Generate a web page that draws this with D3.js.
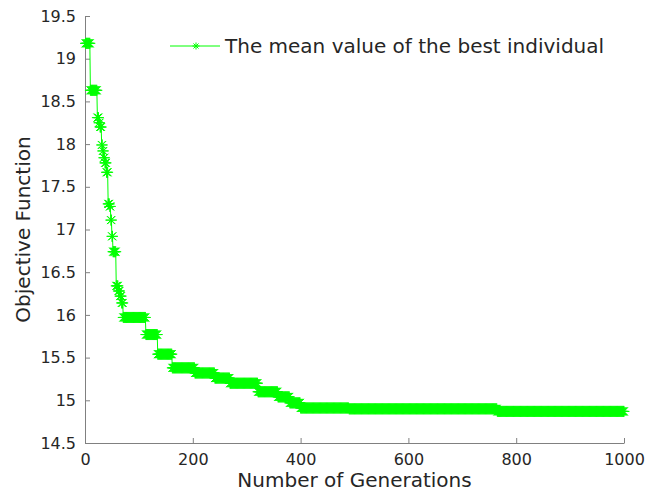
<!DOCTYPE html>
<html>
<head>
<meta charset="utf-8">
<script src="https://cdn.jsdelivr.net/npm/d3@7"></script>
<style>
  body { margin: 0; background: #fff; }
  svg { font-family: "DejaVu Sans", sans-serif; }
  .tick text { fill: #262626; }
</style>
</head>
<body>
<svg width="657" height="493"></svg>
<script>
// generation where the best value changes, and the value held from there on
const stepStart = [1, 10, 23, 26, 28, 31, 33, 35, 37, 40, 43, 46, 48, 50, 52, 58, 62, 65, 68, 71,
  113, 135, 162, 204, 241, 269, 321, 358, 380, 400, 490, 765];
const stepValue = [19.18, 18.63, 18.31, 18.25, 18.2, 17.99, 17.92, 17.84, 17.78, 17.67, 17.3, 17.27,
  17.11, 16.92, 16.74, 16.34, 16.28, 16.22, 16.14, 15.97,
  15.77, 15.54, 15.38, 15.32, 15.26, 15.2, 15.1, 15.04, 14.97, 14.91, 14.9, 14.87];
const lastGen = 1000;
const xTicks = [0, 200, 400, 600, 800, 1000];
const yTicks = [14.5, 15, 15.5, 16, 16.5, 17, 17.5, 18, 18.5, 19, 19.5];
const legendLabel = "The mean value of the best individual";

// one point per generation, holding the last step value
const points = [];
let k = 0;
for (let g = stepStart[0]; g <= lastGen; g++) {
  while (k + 1 < stepStart.length && stepStart[k + 1] <= g) k++;
  points.push({ gen: g, value: stepValue[k] });
}

const svg = d3.select("svg");
const margin = { left: 85, top: 16, right: 33, bottom: 50 };
const width = 657 - margin.left - margin.right;
const height = 493 - margin.top - margin.bottom;

const x = d3.scaleLinear().domain([0, 1000]).range([0, width]);
const y = d3.scaleLinear().domain([14.5, 19.5]).range([height, 0]);

const g = svg.append("g").attr("transform", `translate(${margin.left},${margin.top})`);

const xAxis = g.append("g")
  .attr("transform", `translate(0,${height})`)
  .call(d3.axisBottom(x).tickValues(xTicks).tickFormat(d3.format("d"))
    .tickSizeInner(-5).tickSizeOuter(0).tickPadding(11));
const yAxis = g.append("g")
  .call(d3.axisLeft(y).tickValues(yTicks).tickFormat(d3.format("")).tickSizeInner(-5).tickSizeOuter(0).tickPadding(9));

[xAxis, yAxis].forEach(a => {
  a.selectAll("path, line").attr("stroke", "#808080");
  a.selectAll("text").attr("font-size", 16).attr("font-family", "DejaVu Sans");
});
xAxis.selectAll("text").attr("dy", "0.71em");

const green = "#00ff00";
const star = s => {
  const d = s * 0.72;
  return `M${-s},0H${s}M0,${-s}V${s}M${-d},${-d}L${d},${d}M${-d},${d}L${d},${-d}`;
};

g.append("path")
  .datum(points)
  .attr("fill", "none")
  .attr("stroke", green)
  .attr("stroke-width", 1)
  .attr("d", d3.line().x(d => x(d.gen)).y(d => y(d.value)));

g.append("g").selectAll("path")
  .data(points)
  .enter().append("path")
  .attr("transform", d => `translate(${x(d.gen)},${y(d.value)})`)
  .attr("d", star(5.5))
  .attr("fill", "none")
  .attr("stroke", green)
  .attr("stroke-width", 1);

// axis titles
svg.append("text")
  .attr("x", margin.left + width / 2)
  .attr("y", 487)
  .attr("text-anchor", "middle")
  .attr("font-size", 20)
  .attr("fill", "#262626")
  .text("Number of Generations");

svg.append("text")
  .attr("transform", `translate(30,${margin.top + height / 2}) rotate(-90)`)
  .attr("text-anchor", "middle")
  .attr("font-size", 20)
  .attr("fill", "#262626")
  .text("Objective Function");

// legend
const legend = svg.append("g").attr("transform", "translate(170,46)");
legend.append("line").attr("x1", 0).attr("x2", 50).attr("stroke", green).attr("stroke-width", 1);
legend.append("path").attr("transform", "translate(26,0)").attr("d", star(3.5))
  .attr("fill", "none").attr("stroke", green);
legend.append("text")
  .attr("x", 55).attr("dy", "0.35em")
  .attr("font-size", 20)
  .attr("fill", "#262626")
  .text(legendLabel);
</script>
</body>
</html>
